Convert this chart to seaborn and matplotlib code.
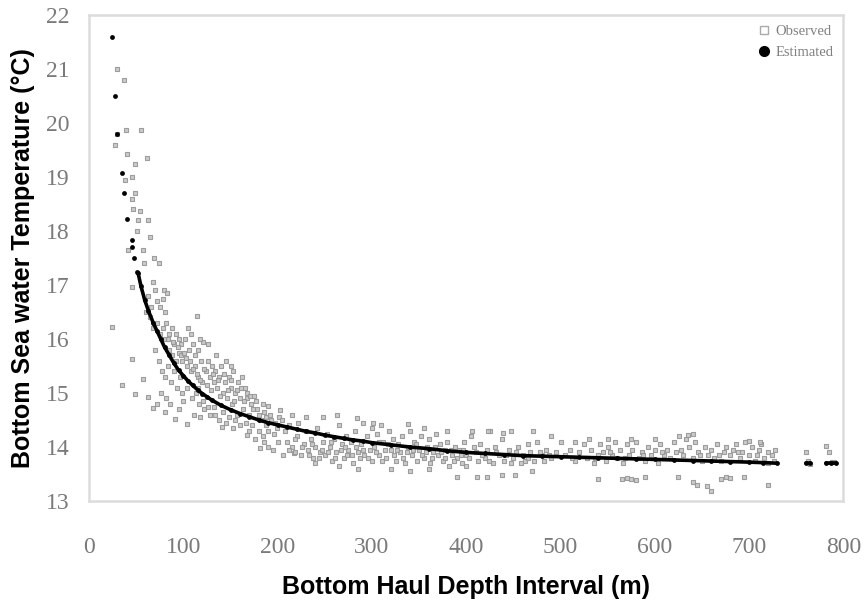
import numpy as np
import pandas as pd
import matplotlib
matplotlib.use("Agg")
import matplotlib.pyplot as plt
from matplotlib.lines import Line2D
import seaborn as sns

# observed hauls (depth m, bottom temperature C)
obs_shallow = [
    (30, 21.0), (37, 20.8), (39, 19.87), (55, 19.87), (30, 19.8), (28, 19.6), (40, 19.42),
    (61, 19.35), (49, 19.24), (45, 19.0), (38, 18.95), (49, 18.7), (45, 18.6), (47, 18.4),
    (54, 18.37), (52, 18.2), (63, 18.2), (51, 18.0), (65, 17.88), (41, 17.65), (57, 17.65),
    (69, 17.5), (74, 17.4), (58, 17.4), (45, 16.97), (68, 17.05), (79, 16.9), (83, 16.85),
    (62, 16.8), (66, 16.6), (70, 16.9), (72, 16.7), (75, 16.6), (78, 16.75), (80, 16.5),
    (65, 16.4), (68, 16.2), (60, 16.5), (24, 16.22), (45, 15.63), (35, 15.15), (49, 14.98),
    (57, 15.26), (63, 14.93), (68, 14.72), (81, 14.65), (91, 14.52), (104, 14.43),
    (114, 16.43), (121, 15.95),
]
obs_mid = [
    (72, 16.3), (75, 16.1), (78, 16.2), (80, 16.0), (82, 16.3), (85, 16.1), (88, 16.2),
    (90, 15.9), (92, 16.1), (95, 16.0), (98, 15.9), (85, 15.8), (88, 15.7), (92, 15.6),
    (95, 15.75), (99, 15.6), (70, 15.8), (74, 15.6), (77, 15.4), (80, 15.3), (84, 15.5),
    (87, 15.2), (90, 15.4), (93, 15.1), (96, 15.3), (99, 15.0), (82, 14.9), (86, 14.8),
    (95, 14.7), (100, 14.85), (76, 15.0), (72, 14.8), (105, 16.2), (102, 16.0), (108, 16.1),
    (106, 15.8), (110, 15.9), (112, 15.7), (115, 15.8), (104, 15.5), (108, 15.4), (112, 15.5),
    (116, 15.3), (119, 15.6), (120, 15.2), (104, 15.1), (109, 14.9), (113, 15.0), (117, 14.8),
    (111, 14.6), (118, 14.55), (122, 14.7), (124, 15.4), (126, 15.6), (128, 15.3), (130, 15.5),
    (132, 15.2), (134, 15.4), (136, 15.1), (138, 15.3), (140, 15.5), (142, 15.0), (144, 15.2),
    (146, 14.9), (148, 15.3), (150, 15.1), (152, 14.8), (155, 15.0), (158, 15.2), (160, 14.9),
    (163, 14.7), (165, 15.1), (168, 14.9), (170, 14.6), (172, 14.8), (175, 14.95), (128, 14.6),
    (133, 14.75), (138, 14.5), (142, 14.65), (148, 14.55), (155, 14.5), (160, 14.4),
    (150, 15.5), (153, 15.4), (162, 15.3), (135, 15.7), (126, 15.9), (118, 16.0), (145, 15.6),
    (178, 14.7), (182, 14.5), (185, 14.65), (188, 14.4), (190, 14.3), (193, 14.5), (196, 14.25),
    (199, 14.35), (186, 14.1), (190, 14.0), (195, 13.95), (200, 14.1), (170, 14.3), (176, 14.15),
    (141, 14.37), (153, 14.35), (168, 14.22), (181, 13.98), (190, 14.76), (203, 14.69),
    (206, 13.85), (217, 13.89),
    # extra crowd above the curve
    (84, 16.0), (89, 15.95), (94, 15.85), (97, 15.7), (101, 15.75), (103, 15.65), (107, 15.6),
    (110, 15.45), (114, 15.35), (118, 15.25), (122, 15.45), (125, 15.15), (129, 15.05),
    (131, 15.35), (137, 15.25), (139, 14.95), (143, 15.35), (147, 15.05), (151, 15.25),
    (154, 14.85), (157, 15.05), (161, 15.1), (164, 14.85), (167, 15.0), (171, 14.95),
    (174, 14.7), (177, 14.85), (180, 14.6), (184, 14.8), (188, 14.55), (192, 14.6),
    (197, 14.45), (201, 14.55), (116, 15.1), (121, 14.85), (126, 14.75), (134, 14.6),
    (145, 14.45), (157, 14.6), (166, 14.45), (173, 14.4), (180, 14.3), (184, 14.2),
]
obs_deep = [
    (205, 14.5), (208, 14.3), (210, 14.1), (212, 14.4), (215, 14.0), (218, 13.9), (220, 14.2),
    (222, 14.45), (225, 13.85), (228, 14.05), (230, 14.3), (232, 13.95), (235, 14.15),
    (238, 13.8), (240, 14.0), (242, 14.35), (245, 13.9), (248, 14.1), (250, 13.85), (252, 14.25),
    (255, 14.0), (258, 13.75), (260, 14.15), (262, 13.9), (265, 14.4), (268, 14.05), (270, 13.8),
    (272, 14.2), (275, 13.95), (278, 14.1), (280, 13.7), (282, 14.3), (285, 13.9), (288, 14.05),
    (290, 14.45), (292, 13.85), (295, 14.2), (298, 13.95), (300, 14.35), (248, 14.55),
    (263, 14.6), (284, 14.53), (301, 14.44), (240, 13.7), (265, 13.65), (285, 13.6),
    (300, 13.75), (215, 14.6), (230, 14.55),
    (302, 14.0), (305, 14.25), (308, 13.85), (310, 14.4), (312, 14.1), (315, 13.8), (318, 14.3),
    (320, 13.95), (322, 14.15), (325, 13.75), (328, 14.05), (330, 13.9), (332, 14.2), (335, 13.7),
    (338, 14.0), (340, 14.3), (342, 13.85), (345, 14.1), (348, 13.75), (350, 13.95), (352, 14.2),
    (355, 13.8), (358, 14.0), (360, 14.15), (362, 13.7), (365, 13.9), (368, 14.25), (370, 13.85),
    (372, 14.05), (375, 13.75), (378, 13.95), (380, 14.1), (382, 13.65), (385, 13.85),
    (388, 14.0), (390, 13.8), (392, 13.95), (395, 13.7), (398, 14.1), (400, 13.85), (405, 14.2),
    (410, 13.9), (412, 13.75), (415, 14.05), (420, 13.8), (422, 13.95), (425, 14.3), (428, 13.7),
    (430, 14.0), (435, 13.85), (438, 14.15), (440, 13.75), (445, 13.95), (448, 14.3), (450, 13.8),
    (455, 14.0), (458, 13.7), (460, 13.85), (465, 14.05), (468, 13.9), (472, 13.75), (475, 14.1),
    (480, 13.85), (485, 13.95), (490, 13.8), (495, 13.9), (338, 14.42), (355, 14.35),
    (380, 14.3), (406, 14.3), (423, 14.3), (439, 14.26), (471, 14.3), (490, 14.2), (320, 13.6),
    (340, 13.55), (360, 13.6), (400, 13.65), (390, 13.44), (411, 13.44), (422, 13.44),
    (438, 13.48), (452, 13.48), (470, 13.55), (500, 14.1),
    # extra crowd in the main band
    (212, 13.95), (218, 14.15), (226, 14.0), (233, 13.85), (236, 14.05), (244, 13.8),
    (247, 13.95), (253, 13.9), (257, 14.1), (261, 13.8), (267, 13.95), (271, 14.0),
    (274, 13.85), (279, 13.85), (283, 14.0), (287, 13.8), (291, 13.95), (296, 13.8),
    (304, 13.9), (307, 14.1), (311, 13.75), (314, 13.95), (317, 14.05), (323, 13.85),
    (327, 13.95), (333, 13.8), (337, 13.9), (344, 13.95), (347, 14.05), (353, 13.85),
    (357, 13.9), (364, 13.8), (367, 14.0), (373, 13.9), (377, 13.8), (384, 13.95),
    (387, 13.75), (394, 13.85), (397, 13.95), (403, 13.8), (408, 14.0), (417, 13.85),
    (424, 13.75), (432, 13.9), (442, 13.85), (447, 13.7), (453, 13.9), (462, 13.75),
    (466, 13.8), (478, 13.9), (483, 13.75), (488, 13.85),
]
obs_far = [
    (505, 13.85), (510, 13.95), (515, 13.75), (520, 13.9), (525, 14.05), (528, 13.8),
    (532, 13.95), (535, 13.7), (540, 13.85), (542, 14.05), (545, 13.9), (548, 13.75), (550, 14.0),
    (555, 13.85), (558, 14.1), (560, 13.8), (563, 13.95), (566, 13.7), (570, 14.05), (573, 13.85),
    (576, 13.95), (580, 14.1), (583, 13.8), (586, 13.9), (590, 13.75), (593, 14.0), (596, 13.85),
    (600, 13.95), (603, 13.7), (606, 14.05), (610, 13.85), (613, 13.95), (616, 13.8), (620, 14.1),
    (623, 13.9), (626, 14.2), (630, 13.85), (633, 14.15), (636, 14.0), (640, 13.8), (643, 14.1),
    (646, 13.9), (650, 13.75), (653, 14.0), (656, 13.85), (660, 13.95), (663, 13.8), (666, 14.05),
    (670, 13.75), (673, 13.9), (676, 14.0), (680, 13.85), (683, 13.95), (686, 14.05), (690, 13.8),
    (693, 13.9), (696, 14.1), (700, 13.85), (703, 14.0), (706, 13.75), (710, 13.95), (713, 14.05),
    (716, 13.8), (720, 13.9), (724, 13.85), (728, 13.95), (720, 13.7), (540, 13.4), (565, 13.4),
    (570, 13.42), (575, 13.4), (580, 13.38), (590, 13.45), (625, 13.45), (640, 13.35),
    (645, 13.3), (655, 13.28), (660, 13.18), (670, 13.4), (675, 13.45), (680, 13.42),
    (695, 13.45), (720, 13.3), (515, 14.1), (530, 14.15), (550, 14.15), (575, 14.15),
    (600, 14.15), (635, 14.22), (640, 14.25), (700, 14.12), (712, 14.1), (760, 13.9),
    (762, 13.75), (765, 13.68), (782, 14.02), (785, 13.9), (788, 13.72), (790, 13.72),
    (512, 13.8), (537, 13.8), (553, 13.9), (568, 13.8), (588, 13.85), (608, 13.9),
    (628, 13.95), (648, 13.85), (668, 13.85), (688, 13.9), (708, 13.85), (726, 13.75),
]

# estimated temperature per depth interval; seg marks pieces of the drawn curve
est_depth = [24, 27, 30, 35, 37, 40, 45, 46, 48, 51,
             52, 55, 59, 63, 68, 72, 76, 80, 85, 90, 95, 100, 105, 110, 115, 120, 125, 130,
             140, 150, 160, 170, 180, 190, 200, 210, 220, 230, 240, 250, 260, 270, 280, 290,
             300, 320, 340, 360, 380, 400, 420, 440, 460, 480, 500, 520, 540, 560, 580, 600,
             620, 640, 660, 680, 700, 715, 730,
             760, 765, 782, 787, 792]
est_temp = [21.6, 20.5, 19.8, 19.07, 18.7, 18.22, 17.83, 17.7, 17.5, 17.25,
            17.22, 16.98, 16.72, 16.52, 16.3, 16.15, 16.0, 15.85, 15.7, 15.55, 15.42, 15.32,
            15.22, 15.14, 15.06, 14.99, 14.93, 14.87, 14.77, 14.69, 14.62, 14.56, 14.5, 14.45,
            14.41, 14.37, 14.33, 14.29, 14.26, 14.22, 14.19, 14.16, 14.13, 14.11, 14.08, 14.04,
            14.0, 13.97, 13.93, 13.9, 13.88, 13.86, 13.84, 13.83, 13.82, 13.81, 13.8, 13.79,
            13.78, 13.77, 13.76, 13.75, 13.74, 13.73, 13.72, 13.71, 13.7,
            13.7, 13.7, 13.7, 13.7, 13.7]
est_seg = [0] * 10 + [1] * 57 + [2] * 2 + [3] * 3

obs = pd.DataFrame(obs_shallow + obs_mid + obs_deep + obs_far, columns=["depth", "temp"])
est = pd.DataFrame({"depth": est_depth, "temp": est_temp, "seg": est_seg})

sns.set_style("white")
plt.rcParams["font.family"] = ["Liberation Serif", "DejaVu Serif"]

fig, ax = plt.subplots(figsize=(8.65, 6.0), dpi=100)
fig.subplots_adjust(left=0.103, right=0.975, top=0.975, bottom=0.165)

sns.scatterplot(data=obs, x="depth", y="temp", ax=ax, marker="s", s=12,
                facecolor="#c6c6c6", edgecolor="#969696", linewidth=0.8, alpha=0.9, zorder=2)
sns.scatterplot(data=est, x="depth", y="temp", ax=ax, color="black", s=12,
                linewidth=0, zorder=3)
for seg, grp in est[est["seg"] > 0].groupby("seg"):
    sns.lineplot(data=grp, x="depth", y="temp", ax=ax, color="black", lw=2.6,
                 sort=False, estimator=None, zorder=3)

ax.set_xlim(0, 800)
ax.set_ylim(13, 22)
ax.set_xticks(range(0, 801, 100))
ax.set_yticks(range(13, 23))

for s in ax.spines.values():
    s.set_color("#dcdcdc")
    s.set_linewidth(1.8)
ax.tick_params(axis="both", colors="#dcdcdc", labelcolor="#7a7a7a", labelsize=17,
               length=5, width=1.5, direction="out")
ax.tick_params(axis="x", pad=21)
ax.tick_params(axis="y", pad=9)

lab = dict(family=["Liberation Sans", "DejaVu Sans"], fontweight="bold", fontsize=18,
           color="black")
ax.set_xlabel("Bottom Haul Depth Interval (m)", labelpad=12, **lab)
ax.set_ylabel("Bottom Sea water Temperature (°C)", labelpad=8, **lab)

handles = [
    Line2D([], [], ls="none", marker="s", ms=6, mfc="white", mec="#aaaaaa", mew=1),
    Line2D([], [], ls="none", marker="o", ms=7, mfc="black", mec="black"),
]
leg = ax.legend(handles, ["Observed", "Estimated"], loc="upper right", frameon=False,
                fontsize=10.5, handletextpad=0.3, labelspacing=0.5, borderaxespad=0.3,
                handlelength=1.0)
for t in leg.get_texts():
    t.set_color("#808080")

fig.savefig("out.png", dpi=100)
